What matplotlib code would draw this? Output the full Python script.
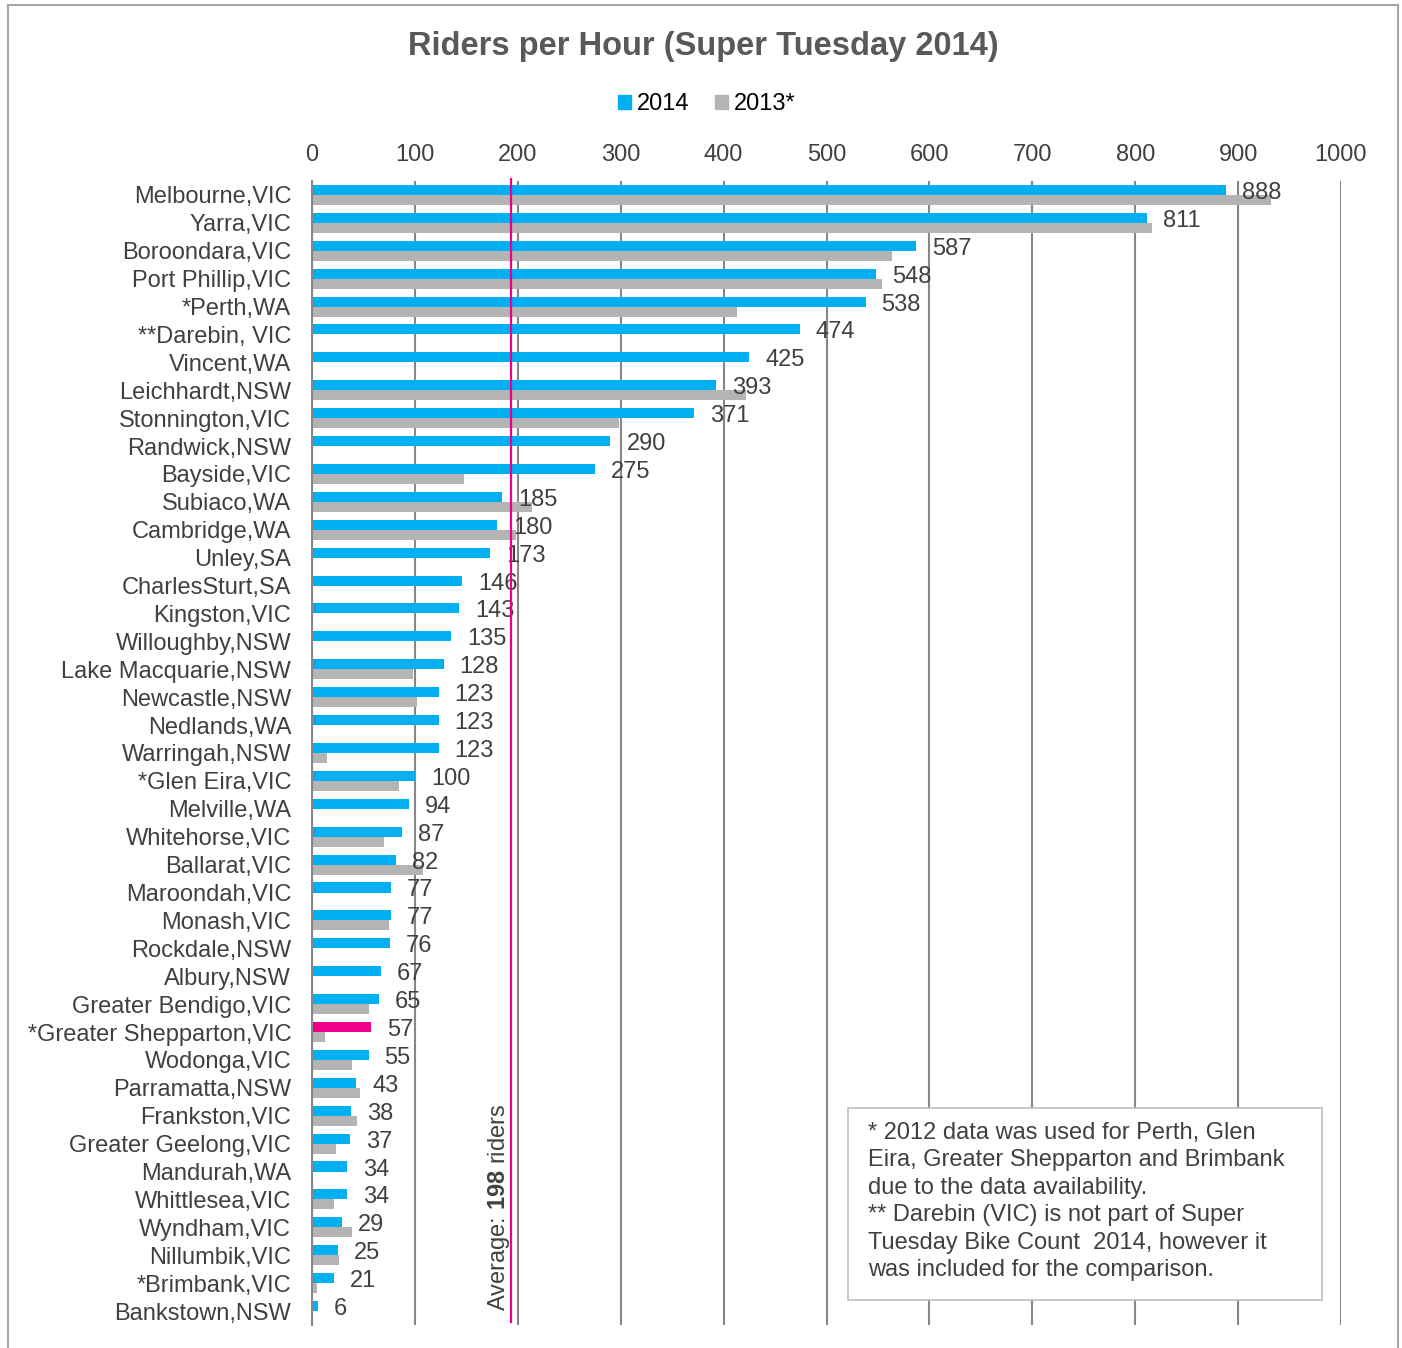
import matplotlib
matplotlib.use("Agg")
import matplotlib.pyplot as plt
from matplotlib.patches import Patch, Rectangle
import numpy as np

plt.rcParams['font.family'] = ['Liberation Sans', 'DejaVu Sans']
plt.rcParams['mathtext.fontset'] = 'custom'
plt.rcParams['mathtext.rm'] = 'Liberation Sans'
plt.rcParams['mathtext.bf'] = 'Liberation Sans:bold'

# data
councils = ["Melbourne,VIC", "Yarra,VIC", "Boroondara,VIC", "Port Phillip,VIC", "*Perth,WA",
            "**Darebin, VIC", "Vincent,WA", "Leichhardt,NSW", "Stonnington,VIC", "Randwick,NSW",
            "Bayside,VIC", "Subiaco,WA", "Cambridge,WA", "Unley,SA", "CharlesSturt,SA",
            "Kingston,VIC", "Willoughby,NSW", "Lake Macquarie,NSW", "Newcastle,NSW", "Nedlands,WA",
            "Warringah,NSW", "*Glen Eira,VIC", "Melville,WA", "Whitehorse,VIC", "Ballarat,VIC",
            "Maroondah,VIC", "Monash,VIC", "Rockdale,NSW", "Albury,NSW", "Greater Bendigo,VIC",
            "*Greater Shepparton,VIC", "Wodonga,VIC", "Parramatta,NSW", "Frankston,VIC",
            "Greater Geelong,VIC", "Mandurah,WA", "Whittlesea,VIC", "Wyndham,VIC",
            "Nillumbik,VIC", "*Brimbank,VIC", "Bankstown,NSW"]
riders_2014 = [888, 811, 587, 548, 538, 474, 425, 393, 371, 290, 275, 185, 180, 173, 146,
               143, 135, 128, 123, 123, 123, 100, 94, 87, 82, 77, 77, 76, 67, 65,
               57, 55, 43, 38, 37, 34, 34, 29, 25, 21, 6]
riders_2013 = [932, 816, 564, 554, 413, np.nan, np.nan, 422, 298, np.nan, 148, 214, 198,
               np.nan, np.nan, np.nan, np.nan, 98, 102, np.nan, 15, 85, np.nan, 70, 108,
               np.nan, 75, np.nan, np.nan, 55, 13, 39, 47, 44, 23, np.nan, 21, 39, 26, 4.5,
               np.nan]
highlight = "*Greater Shepparton,VIC"
avg_label = 198
avg_line = 193
x_ticks = [0, 100, 200, 300, 400, 500, 600, 700, 800, 900, 1000]

blue = "#00B0F0"
grey = "#B4B4B4"
pink = "#EC008C"
txt = "#404040"

fig = plt.figure(figsize=(14.02, 13.48), dpi=100)
ax = fig.add_axes([312/1402, 23/1348, 1029/1402, 1144/1348])

y = np.arange(len(councils))
h = 0.36
cols = [pink if c == highlight else blue for c in councils]
ax.barh(y - h/2, riders_2014, height=h, color=cols, zorder=3)
ax.barh(y + h/2, riders_2013, height=h, color=grey, zorder=3)

for yi, v in zip(y, riders_2014):
    ax.annotate(str(v), (v, yi - h/2), xytext=(16, -3), textcoords='offset pixels',
                ha='left', va='center', fontsize=17, color=txt, zorder=4)

ax.set_xlim(0, 1000)
ax.set_ylim(len(councils) - 0.5, -0.5)
ax.set_xticks(x_ticks)
ax.set_yticks(y)
ax.set_yticklabels(councils)
ax.xaxis.tick_top()
ax.tick_params(axis='x', length=0, pad=10.5, labelsize=17, labelcolor=txt)
ax.tick_params(axis='y', length=0, pad=15, labelsize=17, labelcolor=txt)
ax.grid(axis='x', color='#878787', linewidth=1.5, zorder=1)
for s in ['top', 'right', 'bottom']:
    ax.spines[s].set_visible(False)
ax.spines['left'].set_color('#878787')
ax.spines['left'].set_linewidth(1.5)
ax.spines['left'].set_zorder(5)

# average line
ax.axvline(avg_line, color=pink, linewidth=1.6, zorder=4, ymin=0.003, ymax=1.002, clip_on=False)
ax.text(avg_line - 11, 40.0, "Average: $\\mathbf{%d}$ riders" % avg_label, rotation=90,
        ha='center', va='bottom', fontsize=17, color=txt, zorder=4)

fig.text(0.5015, 1 - 47/1348, "Riders per Hour (Super Tuesday 2014)", ha='center', va='center',
         fontsize=23.5, fontweight='bold', color='#595959')

handles = [Patch(color=blue, label='2014'), Patch(color=grey, label='2013*')]
fig.legend(handles=handles, loc='center', bbox_to_anchor=(0.504, 1 - 104/1348), ncol=2,
           frameon=False, fontsize=17, handlelength=0.55, handleheight=0.55,
           handletextpad=0.25, columnspacing=1.1, borderaxespad=0)

# note box
fig.patches.append(Rectangle((848/1402, 1 - 1300/1348), 474/1402, 192/1348,
                             transform=fig.transFigure, facecolor='white',
                             edgecolor='#BFBFBF', linewidth=1.2, zorder=6))
note = ("* 2012 data was used for Perth, Glen\n"
        "Eira, Greater Shepparton and Brimbank\n"
        "due to the data availability.\n"
        "** Darebin (VIC) is not part of Super\n"
        "Tuesday Bike Count  2014, however it\n"
        "was included for the comparison.")
fig.text(868/1402, 1 - 1122/1348, note, ha='left', va='top', fontsize=17, color=txt,
         linespacing=1.32, zorder=7)

# outer border
fig.patches.append(Rectangle((8/1402, -0.02), 1390/1402, 1.02 - 5/1348,
                             transform=fig.transFigure, fill=False,
                             edgecolor='#A6A6A6', linewidth=1.5))

fig.savefig("out.png", dpi=100)
